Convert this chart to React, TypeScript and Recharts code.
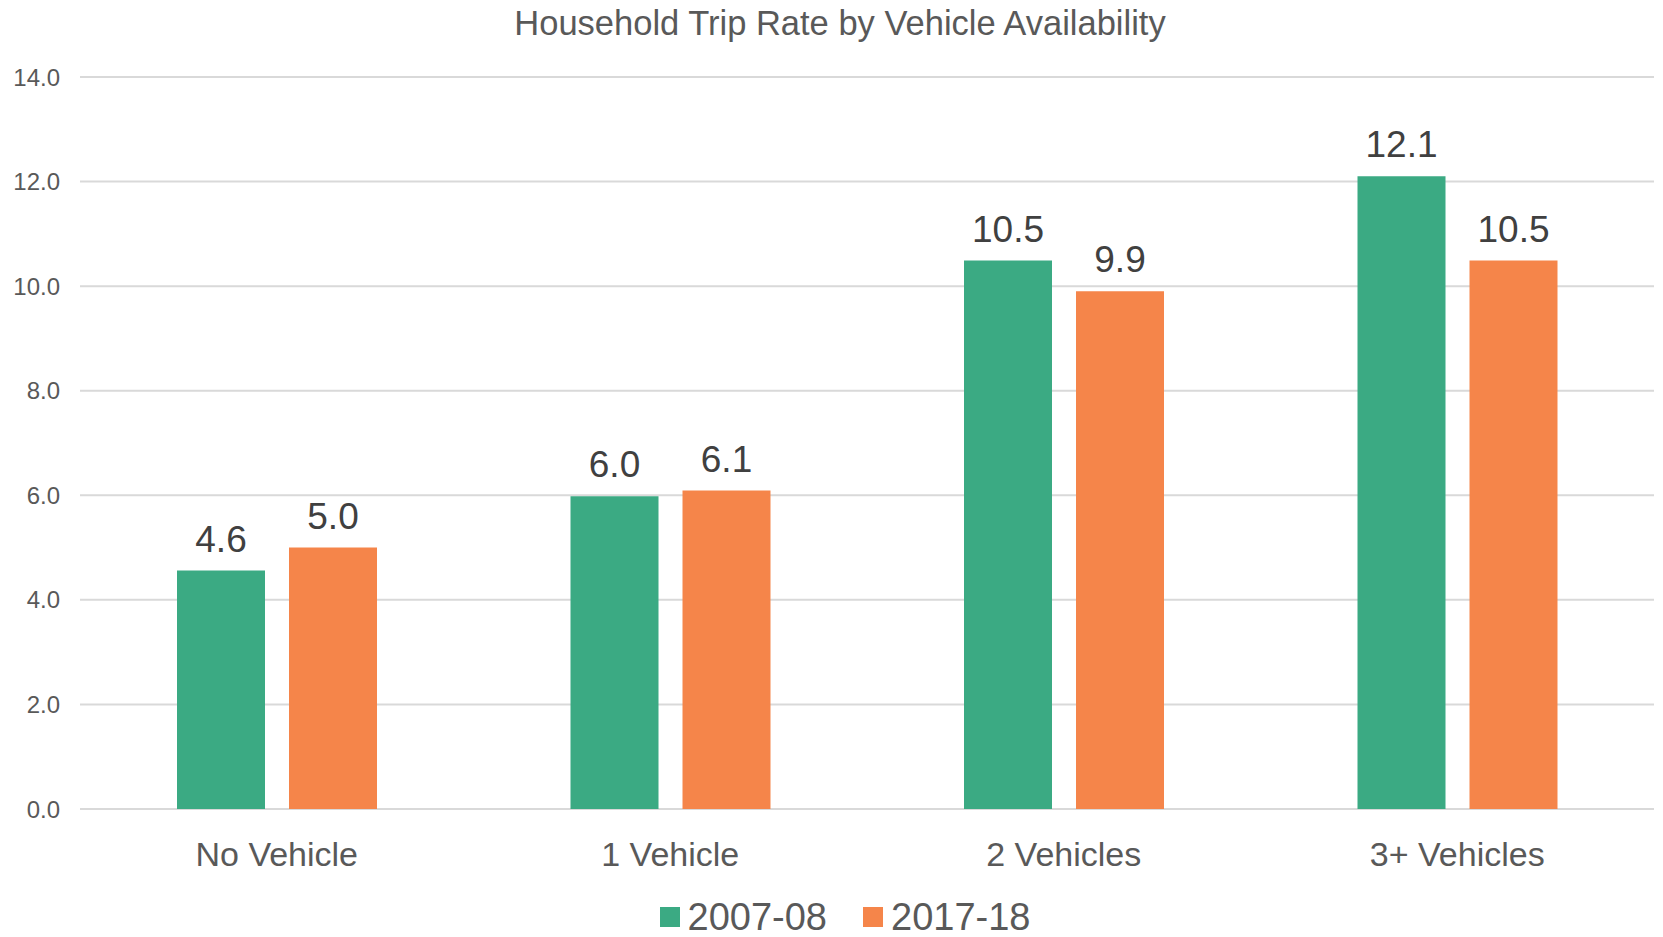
import React from "react";
import { BarChart, Bar, XAxis, YAxis, CartesianGrid, LabelList, Legend } from "recharts";

const categories = ["No Vehicle", "1 Vehicle", "2 Vehicles", "3+ Vehicles"];
const series2007 = [4.56, 5.98, 10.49, 12.1];
const series2017 = [5.0, 6.09, 9.9, 10.49];
const yTicks = [0, 2, 4, 6, 8, 10, 12, 14];
const seriesNames = ["2007-08", "2017-18"];
const colors = ["#3BAA83", "#F5854A"];

const data = categories.map((c, i) => ({ name: c, a: series2007[i], b: series2017[i] }));

const FONT = "'Liberation Sans', Arial, sans-serif";

const renderLegend = (props: any) => {
  const { payload } = props;
  return (
    <div
      style={{
        display: "flex",
        justifyContent: "center",
        alignItems: "center",
        height: 48,
        paddingTop: 8,
        paddingLeft: 36,
        boxSizing: "border-box",
        fontFamily: FONT,
      }}
    >
      {(payload || []).map((p: any, i: number) => (
        <div key={i} style={{ display: "flex", alignItems: "center", marginRight: i === 0 ? 36 : 0 }}>
          <div style={{ width: 20, height: 20, background: p.color, marginRight: 8 }} />
          <span style={{ fontSize: 38, color: "#595959", lineHeight: "40px" }}>{p.value}</span>
        </div>
      ))}
    </div>
  );
};

export default function App() {
  return (
    <div style={{ position: "relative", width: 1663, height: 937, background: "#fff" }}>
      <style>{`body{margin:0}`}</style>
      <div
        style={{
          position: "absolute",
          top: 0,
          left: 0,
          width: 1680,
          textAlign: "center",
          fontFamily: FONT,
          fontSize: 34.5,
          color: "#595959",
          lineHeight: "46px",
        }}
      >
        Household Trip Rate by Vehicle Availability
      </div>
      <BarChart
        width={1663}
        height={937}
        data={data}
        margin={{ top: 77, right: 9, left: 0, bottom: 0 }}
        barSize={88}
        barGap={24}
      >
        <CartesianGrid vertical={false} stroke="#D9D9D9" strokeWidth={2} />
        <XAxis
          dataKey="name"
          axisLine={false}
          tickLine={false}
          tickSize={0}
          tickMargin={33}
          height={80}
          tick={{ fontSize: 34, fill: "#595959", fontFamily: FONT }}
          interval={0}
        />
        <YAxis
          domain={[0, 14]}
          ticks={yTicks}
          axisLine={false}
          tickLine={false}
          tickSize={0}
          tickMargin={20}
          width={80}
          tickFormatter={(v: number) => v.toFixed(1)}
          tick={{ fontSize: 24, fill: "#595959", fontFamily: FONT }}
        />
        <Legend verticalAlign="bottom" content={renderLegend} />
        <Bar dataKey="a" name={seriesNames[0]} fill={colors[0]} isAnimationActive={false}>
          <LabelList
            dataKey="a"
            position="top"
            offset={19}
            formatter={(v: any) => Number(v).toFixed(1)}
            style={{ fontSize: 37, fill: "#404040", fontFamily: FONT }}
          />
        </Bar>
        <Bar dataKey="b" name={seriesNames[1]} fill={colors[1]} isAnimationActive={false}>
          <LabelList
            dataKey="b"
            position="top"
            offset={19}
            formatter={(v: any) => Number(v).toFixed(1)}
            style={{ fontSize: 37, fill: "#404040", fontFamily: FONT }}
          />
        </Bar>
      </BarChart>
    </div>
  );
}
